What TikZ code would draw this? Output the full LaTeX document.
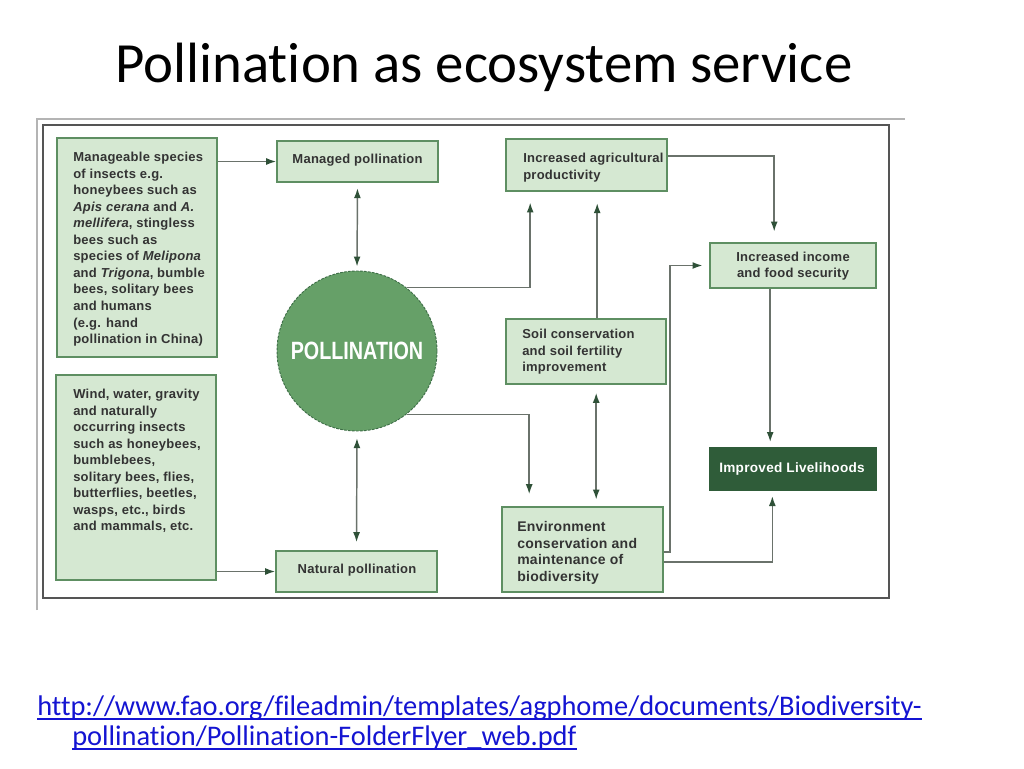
\documentclass[tikz,border=0pt]{standalone}
\usepackage{fontspec}
\setmainfont{Carlito}[Ligatures={NoCommon,NoRare}]
\newfontfamily\bxfont[LetterSpace=2]{Liberation Sans}
\newfontfamily\plainsans{Liberation Sans}
\usetikzlibrary{arrows.meta,calc,fit}
\definecolor{boxfill}{HTML}{D5E8D2}
\definecolor{boxdraw}{HTML}{5E8F62}
\definecolor{circfill}{HTML}{66A068}
\definecolor{circdraw}{HTML}{3E6E47}
\definecolor{livfill}{HTML}{2F5C39}
\definecolor{linec}{HTML}{6A726B}
\definecolor{headc}{HTML}{2F5138}
\definecolor{txt}{HTML}{333333}
\definecolor{urlc}{HTML}{1414D2}
\definecolor{framec}{HTML}{555555}
\definecolor{faintc}{HTML}{B4B4B4}
\begin{document}
\begin{tikzpicture}[x=0.75pt,y=-0.75pt,
  gbox/.style={draw=boxdraw, fill=boxfill, line width=1.2pt, inner sep=0pt},
  btext/.style={font=\bxfont\bfseries\fontsize{9.75}{12.4}\selectfont, text=txt, align=left, inner sep=0pt, anchor=north west},
  ctext/.style={font=\bxfont\bfseries\fontsize{9.75}{12.4}\selectfont, text=txt, align=center, inner sep=0pt},
  conn/.style={draw=linec, line width=1.1pt, -{Latex[length=7.5pt,width=5.2pt,color=headc]}},
  dconn/.style={draw=linec, line width=1.1pt, {Latex[length=7.5pt,width=5.2pt,color=headc]}-{Latex[length=7.5pt,width=5.2pt,color=headc]}},
]
\useasboundingbox (0,0) rectangle (1024,768);
\fill[white] (0,0) rectangle (1024,768);

% title
\node[anchor=base west, font=\fontsize{42.6}{50}\selectfont, inner sep=0pt] (title) at (115,82) {Pollination as ecosystem service};

% picture frame
\draw[faintc, line width=0.8pt] (37,610) -- (37,119) -- (905,119);
\node[draw=framec, line width=1.2pt, inner sep=0pt, fit={(43,125)(889,598)}] (frame) {};

% boxes
\node[gbox, fit={(57,138)(217,357)}] (A) {};
\node[btext] (Atxt) at (73,152) {Manageable species\\of insects e.g.\\honeybees such as\\\textit{Apis cerana} and \textit{A.}\\\textit{mellifera}, stingless\\bees such as\\species of \textit{Melipona}\\and \textit{Trigona}, bumble\\bees, solitary bees\\and humans\\(e.g. hand\\pollination in China)};

\node[gbox, fit={(56,375)(216,580)}] (B) {};
\node[btext] (Btxt) at (73,389) {Wind, water, gravity\\and naturally\\occurring insects\\such as honeybees,\\bumblebees,\\solitary bees, flies,\\butterflies, beetles,\\wasps, etc., birds\\and mammals, etc.};

\node[gbox, fit={(277,141)(438,182)}] (M) {};
\node[ctext] (Mtxt) at (357.5,160) {Managed pollination};
\node[gbox, fit={(276,551)(437,592)}] (N) {};
\node[ctext] (Ntxt) at (357,570) {Natural pollination};

\node[circle, fill=circfill, draw=circdraw, dash pattern=on 2pt off 1pt, line width=0.7pt,
      minimum size=120pt, inner sep=0pt, text=white,
      font=\plainsans\bfseries\fontsize{18.75}{20}\selectfont] (P) at (357,351) {\scalebox{0.79}[1]{POLLINATION}};

\node[gbox, fit={(506,139)(667,191)}] (G) {};
\node[btext] (Gtxt) at (523,153) {Increased agricultural\\productivity};

\node[gbox, fit={(506,319)(666,384)}] (S) {};
\node[btext] (Stxt) at (522,329) {Soil conservation\\and soil fertility\\improvement};

\node[gbox, fit={(502,507)(663,592)}] (E) {};
\node[btext, font=\bxfont\bfseries\fontsize{10.5}{12.5}\selectfont] (Etxt) at (517,521) {Environment\\conservation and\\maintenance of\\biodiversity};

\node[gbox, fit={(710,243)(876,288)}] (I) {};
\node[ctext] (Itxt) at (793,266) {Increased income\\and food security};
\node[fill=livfill, draw=livfill, line width=1pt, inner sep=0pt, fit={(710,448)(876,490)}] (L) {};
\node[inner sep=0pt, text=white, font=\bxfont\bfseries\fontsize{10.2}{12}\selectfont] (Ltxt) at (792,469) {Improved Livelihoods};

% connectors
\draw[conn] (A.east |- M.west) -- (M.west);
\draw[conn] (B.east |- N.west) -- (N.west);
\draw[dconn, shorten <=4pt, shorten >=3pt] (M.south) -- (P.north);
\draw[dconn, shorten <=5pt, shorten >=6pt] (P.south) -- (N.north);
\draw[conn, shorten >=8pt] (P.52) -| ($(G.south west)+(25,0)$);
\draw[conn, shorten >=8.5pt] ($(S.north west)+(92,0)$) coordinate (s1) -- (s1 |- G.south);
\draw[conn, shorten >=8pt] ($(G.north east)+(0,18)$) -| ($(I.north west)+(65,0)$);
\draw[conn, shorten >=5pt] ($(E.north east)+(0,46)$) -| ($(I.west)+(-39,0)$) -- (I.west);
\draw[conn, shorten >=4pt] ($(I.south west)+(61,0)$) coordinate (i1) -- (i1 |- L.north);
\draw[conn, shorten >=4pt] ($(E.north east)+(0,56)$) -| ($(L.south west)+(63,0)$);
\draw[conn, shorten >=9pt] (P.-52) -| ($(E.north west)+(28,0)$);
\draw[dconn, shorten <=6pt, shorten >=5pt] ($(S.south west)+(91,0)$) coordinate (s2) -- (s2 |- E.north);

% source url
\node[anchor=base west, inner sep=0pt, text=urlc, font=\fontsize{21.3}{25}\selectfont] (u1) at (37,715) {http://www.fao.org/fileadmin/templates/agphome/documents/Biodiversity-};
\node[anchor=base west, inner sep=0pt, text=urlc, font=\fontsize{21.3}{25}\selectfont] (u2) at (72,745) {pollination/Pollination-FolderFlyer\_web.pdf};
\draw[urlc, line width=1.1pt] ($(u1.base west)+(0,4)$) -- ($(u1.base east)+(0,4)$);
\draw[urlc, line width=1.1pt] ($(u2.base west)+(0,4)$) -- ($(u2.base east)+(0,4)$);
\end{tikzpicture}
\end{document}
